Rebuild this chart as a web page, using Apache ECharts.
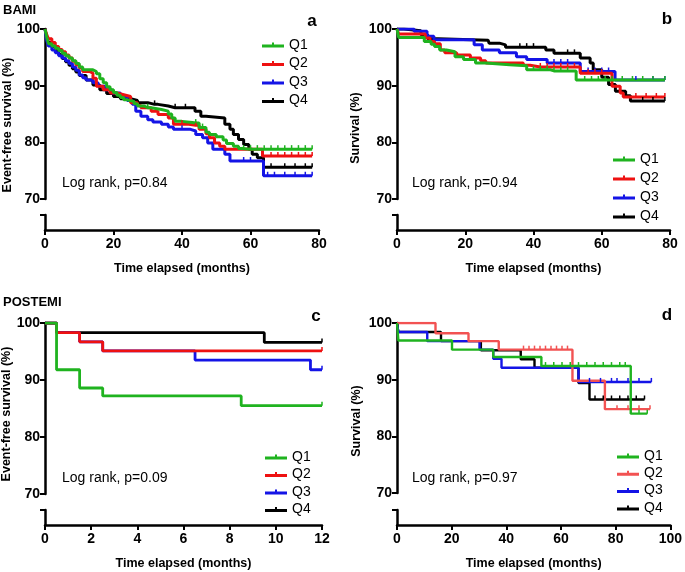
<!DOCTYPE html>
<html><head><meta charset="utf-8">
<script src="https://cdn.jsdelivr.net/npm/echarts@6/dist/echarts.min.js"></script>
<style>html,body{margin:0;padding:0;background:#fff}#c{width:685px;height:572px}</style>
</head><body><div id="c"></div>
<script>
const names = ['Q1', 'Q2', 'Q3', 'Q4'];
const xTitle = 'Time elapsed (months)';
const yTitleEFS = 'Event-free survival (%)';
const yTitleOS = 'Survival (%)';
const yTicks = [70, 80, 90, 100];

// Panel a: BAMI event-free survival [month, %]
const a_Q1 = [[0,100],[0.5,98.6],[1,97.4],[2,97.0],[3,96.6],[4,96.2],[5,95.7],[6,95.3],[7,94.9],[8,94.4],[9,93.9],[10,93.3],[11,92.8],[14,92.5],[15,92.1],[16,91.2],[17,90.5],[18,89.8],[19,89.3],[20,88.8],[21,88.3],[22,87.9],[23,87.5],[24,87.2],[26,86.8],[27,86.4],[29,86.1],[31,85.8],[34,85.5],[36,85.0],[37,84.3],[38,83.7],[40,83.5],[43,83.4],[45,82.6],[47,81.8],[48,81.4],[50,81.0],[52,80.4],[53,79.8],[55,79.3],[56.5,78.9],[57.5,78.8],[78,78.8]];
const a_Q2 = [[0,100],[0.5,99.0],[1,98.3],[2,97.6],[3,96.9],[4,96.4],[5,96.0],[6,95.4],[7,94.9],[8,94.3],[9,93.7],[10,93.1],[11,92.5],[13,92.2],[14,91.3],[15,89.9],[17,89.3],[19,88.7],[21,88.4],[23,88.1],[25,87.0],[27,86.5],[28,86.1],[31,85.5],[33,84.9],[36,84.3],[37.5,83.2],[42,83.0],[45,82.3],[47,81.5],[48,80.8],[49.5,79.9],[51,79.3],[52.5,78.8],[63.5,77.6],[78,77.6]];
const a_Q3 = [[0,100],[0.5,98.0],[1,97.0],[2,96.3],[3,95.8],[4,95.3],[5,94.9],[6,94.4],[7,93.9],[8,93.3],[9,92.7],[10,91.9],[11,91.4],[12,91.0],[14,90.5],[15.5,89.9],[17.5,89.3],[19.5,88.7],[22,88.1],[24,87.4],[25.5,86.7],[26.5,85.5],[28,84.6],[30,84.0],[31.5,83.6],[34,83.2],[36,82.7],[37.5,82.3],[42.5,82.0],[44,81.4],[46,80.8],[47.5,79.9],[49,78.8],[52.5,77.9],[54,76.7],[63.8,74.1],[78,74.1]];
const a_Q4 = [[0,100],[0.5,98.5],[1,97.6],[2,96.9],[3,96.2],[4,95.5],[5,94.8],[6,94.2],[7,93.6],[8,93.0],[9,92.4],[10,91.8],[12,91.0],[14,90.1],[16,89.3],[18,88.6],[20,88.1],[22,87.7],[25,87.4],[27,87.0],[30,86.7],[33,86.4],[36,86.1],[43.8,85.5],[45.5,84.6],[47,84.3],[52.5,83.2],[54,82.3],[55,81.4],[56.5,80.5],[58,79.6],[59.5,78.8],[60.5,77.9],[62,77.3],[63.8,75.6],[78,75.6]];
const a_Q1_cens = [30,44,46,58,60,62,64,66,68,70,72,74,76,78];
const a_Q2_cens = [40,44,66,68,70,72,74,76,78];
const a_Q3_cens = [40,58,60,65,67,70,73,76,78];
const a_Q4_cens = [32,38,41,66,70,73,76,78];

// Panel b: BAMI overall survival
const b_Q1 = [[0,100],[0.5,98.5],[8,97.8],[10,97.3],[11,96.9],[12.5,96.3],[14.5,96.0],[17,95.1],[19.5,94.6],[23,94.0],[26,93.7],[33,93.5],[38,92.8],[45,92.6],[52.5,91.0],[78.5,91.0]];
const b_Q2 = [[0,100],[0.5,99.1],[8.3,98.4],[9.7,97.8],[11,97.4],[12.7,96.3],[14,95.8],[17.5,95.4],[21.5,94.9],[24.5,94.4],[26,94.0],[37,93.6],[39,93.3],[53.7,92.2],[63,89.9],[65.4,88.7],[66.3,88.0],[78.5,88.0]];
const b_Q3 = [[0,100],[5,99.6],[8.8,98.7],[10.8,98.1],[22.6,97.2],[25,96.3],[30,95.8],[35,95.1],[38,94.6],[44,94.0],[53.7,92.5],[63.9,91.0],[78.5,91.0]];
const b_Q4 = [[0,100],[2,99.7],[7,99.0],[9,98.3],[12,98.0],[26.7,97.8],[27,97.5],[30,97.2],[31.8,96.8],[43.6,96.3],[46,95.7],[53.7,94.9],[56.6,94.0],[57.5,92.8],[60,91.5],[62,90.2],[64,89.0],[67,88.2],[68.4,87.3],[78.5,87.3]];
const b_Q1_cens = [40,42,44,46,48,50,55,57,59,61,63,66,69,72,75,78.5];
const b_Q2_cens = [42,44,46,48,50,52,56,58,60,70,73,76,78.5];
const b_Q3_cens = [46,48,50,56,58,60,62,70,75,78.5];
const b_Q4_cens = [36,38,40,50,52,72,75,78.5];

// Panel c: POSTEMI event-free survival
const c_Q1 = [[0,100],[0.5,91.8],[1.5,88.6],[2.5,87.2],[8.5,85.5],[12,85.5]];
const c_Q2 = [[0,100],[0.5,98.3],[1.5,96.7],[2.5,95.1],[12,95.1]];
const c_Q3 = [[0,100],[0.5,98.3],[1.5,96.7],[2.5,95.1],[6.5,93.5],[11.5,91.8],[12,91.8]];
const c_Q4 = [[0,100],[0.5,98.3],[9.5,96.6],[12,96.6]];
const c_Q1_cens = [12];
const c_Q2_cens = [12];
const c_Q3_cens = [12];
const c_Q4_cens = [12];

// Panel d: POSTEMI overall survival
const d_Q1 = [[0,100],[0.5,96.9],[20,95.3],[35,94.0],[52.5,92.4],[85,84.0],[91,84.0]];
const d_Q2 = [[0,100],[14,98.2],[26,96.8],[37,95.3],[63.8,89.8],[75.6,84.8],[92,84.8]];
const d_Q3 = [[0,100],[0.5,98.4],[11,96.8],[30,95.3],[35,93.7],[38,92.1],[66,89.6],[92.5,89.6]];
const d_Q4 = [[0,100],[0.5,98.4],[16,96.8],[30.5,95.2],[45,93.6],[50,92.1],[66,89.4],[70,86.5],[90,86.5]];
const d_Q1_cens = [54,57,60,63,66,69,72,75,78,81,83,88,91];
const d_Q2_cens = [46,48,50,52,54,56,58,60,62,80,84,88,92];
const d_Q3_cens = [70,74,78,80,84,88,92.5];
const d_Q4_cens = [72,75,78,81,84,87,90];

const FONT = '"Liberation Sans", Arial, Helvetica, sans-serif';
const GREEN = '#1fb31f', RED = '#ee1111', BLUE = '#1414e6', BLACK = '#000000', RED2 = '#f25252';

const panels = [
  { x: 45, w: 274, top: 29, h: 170, lowTop: 215, xmax: 80, xint: 20,
    steps: [a_Q1, a_Q2, a_Q3, a_Q4], cens: [a_Q1_cens, a_Q2_cens, a_Q3_cens, a_Q4_cens],
    colors: [GREEN, RED, BLUE, BLACK], lw: 3, legend: [262, 38, 4.5] },
  { x: 397, w: 273, top: 29, h: 170, lowTop: 215, xmax: 80, xint: 20,
    steps: [b_Q1, b_Q2, b_Q3, b_Q4], cens: [b_Q1_cens, b_Q2_cens, b_Q3_cens, b_Q4_cens],
    colors: [GREEN, RED, BLUE, BLACK], lw: 3, legend: [613, 152, 5] },
  { x: 45, w: 277, top: 323, h: 171, lowTop: 510, xmax: 12, xint: 2,
    steps: [c_Q1, c_Q2, c_Q3, c_Q4], cens: [c_Q1_cens, c_Q2_cens, c_Q3_cens, c_Q4_cens],
    colors: [GREEN, RED, BLUE, BLACK], lw: 2.8, legend: [265, 450, 3.5] },
  { x: 397, w: 275, top: 323, h: 170, lowTop: 510, xmax: 100, xint: 20,
    steps: [d_Q1, d_Q2, d_Q3, d_Q4], cens: [d_Q1_cens, d_Q2_cens, d_Q3_cens, d_Q4_cens],
    colors: [GREEN, RED2, BLUE, BLACK], lw: 2.4, legend: [617, 449, 3.3] }
];

function valAt(steps, t) {
  let v = steps[0][1];
  for (const p of steps) { if (p[0] <= t) v = p[1]; }
  return v;
}
function buildData(steps, cens) {
  const pts = steps.map(p => ({ value: [p[0], p[1]], symbol: 'none' }));
  cens.forEach(t => pts.push({ value: [t, valAt(steps, t)], symbol: 'rect', symbolSize: [1.5, 4], symbolOffset: [0, -2] }));
  pts.sort((a, b) => a.value[0] - b.value[0]);
  return pts;
}

const grid = [], xAxis = [], yAxis = [], series = [], legend = [];
const axisLineStyle = { color: '#000', width: 2.5 };
const tickStyle = { color: '#000', width: 2 };
const labelStyle = { color: '#000', fontWeight: 'bold', fontSize: 14, fontFamily: FONT };

panels.forEach((p, i) => {
  const gU = 2 * i, gL = 2 * i + 1;
  grid.push({ left: p.x, top: p.top, width: p.w, height: p.h });
  grid.push({ left: p.x, top: p.lowTop, width: p.w, height: 15 });
  xAxis.push({ type: 'value', gridIndex: gU, min: 0, max: p.xmax, show: false });
  xAxis.push({ type: 'value', gridIndex: gL, min: 0, max: p.xmax, interval: p.xint,
    axisLine: { onZero: false, lineStyle: axisLineStyle },
    axisTick: { show: true, length: 5, lineStyle: tickStyle },
    axisLabel: Object.assign({ margin: 7 }, labelStyle),
    splitLine: { show: false },
    name: xTitle, nameLocation: 'middle', nameGap: 32,
    nameTextStyle: { color: '#000', fontWeight: 'bold', fontSize: 12.5, fontFamily: FONT } });
  yAxis.push({ type: 'value', gridIndex: gU, min: yTicks[0], max: yTicks[yTicks.length - 1], interval: 10,
    axisLine: { show: true, lineStyle: axisLineStyle },
    axisTick: { show: true, length: 5, lineStyle: tickStyle },
    axisLabel: Object.assign({ margin: 5 }, labelStyle),
    splitLine: { show: false } });
  yAxis.push({ type: 'value', gridIndex: gL, min: 0, max: 1,
    axisLine: { show: true, onZero: false, lineStyle: axisLineStyle },
    axisTick: { show: true, length: 5, customValues: [1], lineStyle: tickStyle },
    axisLabel: { show: false }, splitLine: { show: false } });
  // draw Q4 first so Q1 is on top
  [3, 2, 1, 0].forEach(k => {
    series.push({ type: 'line', name: names[k], xAxisIndex: gU, yAxisIndex: gU,
      step: 'end', symbol: 'none', showSymbol: true, showAllSymbol: true,
      data: buildData(p.steps[k], p.cens[k]),
      lineStyle: { color: p.colors[k], width: p.lw },
      itemStyle: { color: p.colors[k], borderWidth: 0 },
      emphasis: { disabled: true }, silent: true, animation: false, z: 2 });
  });
  legend.push({ orient: 'vertical', left: p.legend[0], top: p.legend[1], itemGap: p.legend[2],
    padding: 0, itemWidth: 22, itemHeight: 5,
    icon: 'path://M0,2H22V5H0Z M10,0H12V2H10Z',
    itemStyle: { borderWidth: 0 },
    textStyle: { color: '#000', fontSize: 14, fontFamily: FONT },
    selectedMode: false,
    data: names.map((n, k) => ({ name: n, itemStyle: { color: p.colors[k] } })) });
});

function txt(x, y, text, font, extra) {
  return Object.assign({ type: 'text', x: x, y: y, silent: true,
    style: { text: text, font: font, fill: '#000', align: 'left', verticalAlign: 'middle' } }, extra || {});
}
const boldTitle = 'bold 12.5px ' + FONT;
const graphic = [
  txt(3, 10, 'BAMI', 'bold 13px ' + FONT),
  txt(3, 302, 'POSTEMI', 'bold 13px ' + FONT),
  txt(312, 21, 'a', 'bold 17px ' + FONT, {}),
  txt(667, 19, 'b', 'bold 17px ' + FONT),
  txt(316, 316, 'c', 'bold 17px ' + FONT),
  txt(667, 315, 'd', 'bold 17px ' + FONT),
  txt(62, 183, 'Log rank, p=0.84', '14px ' + FONT),
  txt(412, 183, 'Log rank, p=0.94', '14px ' + FONT),
  txt(62, 478, 'Log rank, p=0.09', '14px ' + FONT),
  txt(412, 478, 'Log rank, p=0.97', '14px ' + FONT)
];
graphic.slice(2, 6).forEach(g => { g.style.align = 'center'; });
[[8, 125, yTitleEFS], [356, 128, yTitleOS], [7, 414, yTitleEFS], [357, 421, yTitleOS]].forEach(d => {
  graphic.push({ type: 'text', x: d[0], y: d[1], rotation: Math.PI / 2, silent: true,
    style: { text: d[2], font: boldTitle, fill: '#000', align: 'center', verticalAlign: 'middle' } });
});

const chart = echarts.init(document.getElementById('c'), null, { renderer: 'canvas' });
chart.setOption({ backgroundColor: '#fff', animation: false, grid, xAxis, yAxis, series, legend, graphic });
</script></body></html>
